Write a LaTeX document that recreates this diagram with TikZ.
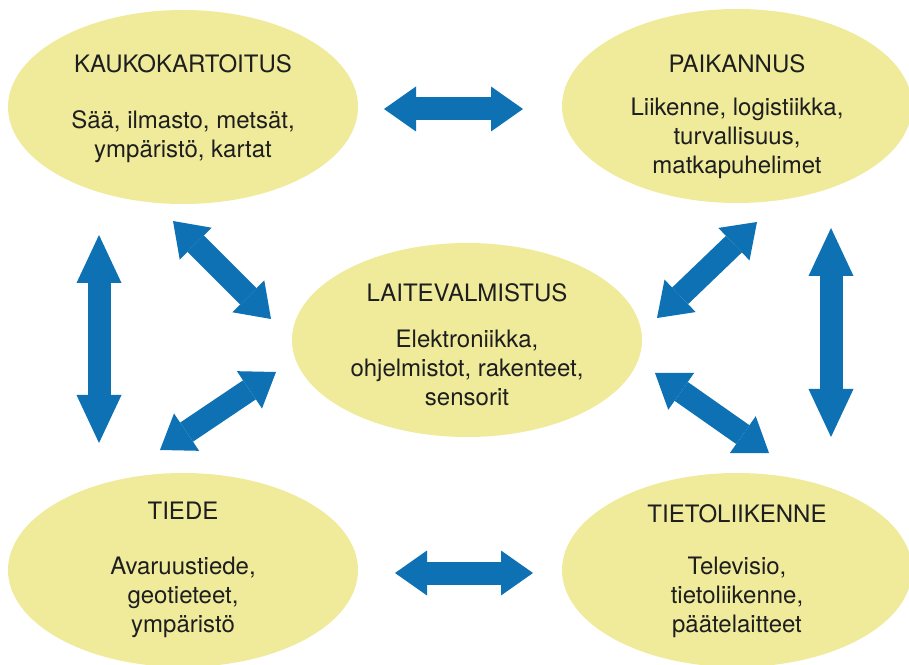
\documentclass[tikz,border=0pt]{standalone}
\usepackage{fontspec}
\setmainfont{TeX Gyre Heros}
\usetikzlibrary{arrows.meta,shapes.geometric}

\definecolor{blobfill}{RGB}{239,235,155}
\definecolor{arrowblue}{RGB}{14,113,180}
\definecolor{inktext}{RGB}{30,30,30}

\tikzset{
  blob/.style={ellipse,fill=blobfill,minimum width=350pt,minimum height=194pt,inner sep=0pt},
  blobtext/.style={align=center,inner sep=0pt,text=inktext,font=\fontsize{24}{29}\selectfont},
  flatarrow/.style={arrowblue,line width=23pt,{Triangle[length=32pt,width=45pt,line width=0pt]}-{Triangle[length=32pt,width=45pt,line width=0pt]}},
  tallarrow/.style={arrowblue,line width=23pt,{Triangle[length=48pt,width=45pt,line width=0pt]}-{Triangle[length=48pt,width=45pt,line width=0pt]}}
}

\begin{document}
\begin{tikzpicture}[x=1pt,y=1pt]
	\useasboundingbox (0,0) rectangle (909,664);
	\node[blob] at (183,557) (kauko) {};
	\node[blob] at (737,558) (paik) {};
	\node[blob] at (467,324) (laite) {};
	\node[blob] at (183,94) (tiede) {};
	\node[blob] at (737,94) (tieto) {};
	\node[blobtext] at (183,555.5) (kaukotxt) {KAUKOKARTOITUS\\[27pt]Sää, ilmasto, metsät,\\ympäristö, kartat};
	\node[blobtext] at (737,547.5) (paiktxt) {PAIKANNUS\\[14pt]Liikenne, logistiikka,\\turvallisuus,\\matkapuhelimet};
	\node[blobtext] at (467,319) (laitetxt) {LAITEVALMISTUS\\[17pt]Elektroniikka,\\ohjelmistot, rakenteet,\\sensorit};
	\node[blobtext] at (183,94) (tiedetxt) {TIEDE\\[26pt]Avaruustiede,\\geotieteet,\\ympäristö};
	\node[blobtext] at (737,92.5) (tietotxt) {TIETOLIIKENNE\\[23pt]Televisio,\\tietoliikenne,\\päätelaitteet};
	\draw[flatarrow] ([shift={(201,-2)}]kauko.center) -- ([shift={(-214,-3)}]paik.center);
	\draw[flatarrow] ([shift={(212,-3)}]tiede.center) -- ([shift={(-204,-3)}]tieto.center);
	\draw[tallarrow] ([shift={(-84,-128)}]kauko.center) -- ([shift={(-84,127)}]tiede.center);
	\draw[tallarrow] ([shift={(94,-122)}]paik.center) -- ([shift={(94,133)}]tieto.center);
	\draw[flatarrow] ([shift={(-10,-114)}]kauko.center) -- ([shift={(-196,21)}]laite.center);
	\draw[flatarrow] ([shift={(-23,120)}]tiede.center) -- ([shift={(-191,-32)}]laite.center);
	\draw[flatarrow] ([shift={(20,-116)}]paik.center) -- ([shift={(190,22)}]laite.center);
	\draw[flatarrow] ([shift={(32,117)}]tieto.center) -- ([shift={(188,-33)}]laite.center);
\end{tikzpicture}
\end{document}
